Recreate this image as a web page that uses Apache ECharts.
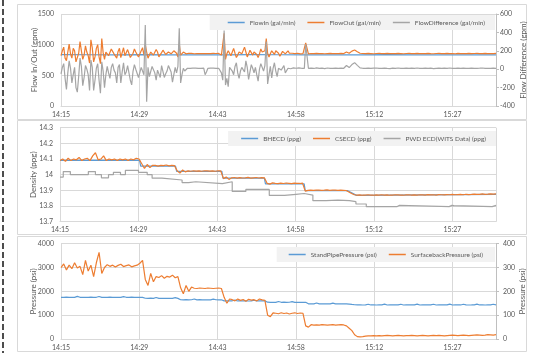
<!DOCTYPE html>
<html>
<head>
<meta charset="utf-8">
<script src="https://cdn.jsdelivr.net/npm/echarts@6/dist/echarts.min.js"></script>
<style>
  html, body { margin: 0; padding: 0; background: #fff; }
  #chart { width: 536px; height: 353px; }
</style>
</head>
<body>
<div id="chart"></div>
<script>
// time is minutes after 14:15
const sampleStep = 0.5;
const fineStep = 0.25;
const lateStart = 45.5;
const timeTicks = ['14:15', '14:29', '14:43', '14:58', '15:12', '15:27'];

// panel 1: flow (gpm) - noisy first 45 min sampled every quarter minute
const flowInStep = 5;
const flowIn = [838, 836, 835, 837, 834, 836, 835, 837, 836, 834, 836, 835, 837, 835, 836, 834, 835];
const flowOutEarly = [
  820, 900, 960, 780, 740, 880, 1010, 850, 780, 940, 900, 720, 700, 860, 1050, 900,
  760, 830, 980, 880, 820, 700, 1080, 950, 720, 800, 940, 1000, 800, 690, 1100, 870,
  760, 880, 900, 820, 800, 930, 960, 850, 830, 780, 890, 940, 790, 870, 950, 820,
  840, 920, 910, 790, 780, 860, 930, 880, 860, 800, 820, 900, 950, 830, 1000, 880,
  780, 830, 880, 900, 830, 860, 920, 880, 800, 790, 870, 910, 900, 840, 820, 880,
  890, 850, 840, 900, 910, 860, 800, 1010, 830, 850, 880, 870, 850, 840, 860, 855,
  858, 855, 852, 856, 854, 857, 853, 855, 856, 854, 855, 857, 853, 856, 854, 855, 858, 854, 856, 853, 857,
  870, 830, 800, 1185, 760, 850, 900, 870, 820, 880, 940, 860, 790, 830, 880, 900,
  850, 870, 960, 880, 800, 850, 910, 870, 830, 880, 880, 840, 790, 850, 930, 880,
  850, 900, 1100, 860, 800, 850, 900, 870, 840, 900, 930, 860, 810, 850, 890, 870,
  850, 880, 900, 860, 840, 860, 870, 855, 850, 860, 865, 850, 850, 855, 850, 1030
];
const flowOutLate = [
  850, 856, 853, 857, 854, 856, 852, 855, 858, 854, 856, 853, 857, 855,
  880, 860, 895, 912, 885, 860,
  856, 853, 857, 855, 852, 856, 858, 854, 855, 857, 853, 856, 854, 858, 855, 852, 856, 857, 854, 855, 858, 853, 856, 855, 857,
  854, 852, 856, 858, 855, 853, 857, 855, 856, 852, 858, 854, 856, 855, 857, 853, 856, 858, 854, 855, 857, 853, 856, 855, 857
];
const flowDiffEarly = [
  -50, 20, 60, -100, -220, -40, 90, 10, -150, -60, 20, -200, -250, -80, 120, 30,
  -180, -90, 40, 0, -60, -230, 100, 20, -230, -120, 10, 60, -120, -260, 80, -20,
  -200, -60, 30, -40, -100, 20, 60, -10, -40, -150, 20, 50, -150, -30, 70, -60,
  -30, 40, 20, -120, -170, -20, 50, 0, -20, -90, -80, 20, 30, -60, 480, -353,
  20, -80, -60, 30, 50, -40, -120, -10, -10, -90, 40, 20, -90, -50, -20, 40,
  60, -30, -140, -60, 20, -40, 30, 445, -150, -60, 10, -20, -30, 10, 5, 8,
  10, 12, 9, 11, 10, 8, 12, 10, 9, 11, -60, -30, 8, 10, 12, 9, 11, 10, 8, 12, 10,
  20, -40, -120, 420, -172, -100, -190, 20, 40, -20, -60, 30, 70, -40, -100, -20,
  20, 10, -30, 90, 20, -110, -30, 50, 10, -40, 20, -60, -130, 0, 60, 20,
  -20, 40, 300, -160, -60, 30, -96, 10, 70, -20, -80, 10, 30, -10, -10, 40,
  -40, -20, 10, 15, 5, 10, 15, 8, 10, 12, 15, 9, 10, 12, 8, 270
];
const flowDiffLate = [
  10, 12, 8, 14, 9, 11, 7, 13, 10, 8, 12, 9, 11, 10,
  40, 18, 50, 71, 42, 15,
  10, 8, 12, 9, 11, 13, 8, 10, 12, 9, 7, 11, 10, 13, 9, 8, 12, 10, 11, 9, 13, 8, 10, 12, 9,
  11, 7, 10, 12, 9, 11, 8, 13, 10, 9, 12, 8, 11, 10, 9, 12, 8, 10, 11, 13, 9, 10, 8, 12, 10
];

// panel 2: density (ppg)
const bhecdTimes = [0, 14.6, 14.8, 21.2, 21.4, 29.7, 29.9, 37.5, 37.7, 44.8, 45.0, 52.8, 54.4, 80];
const bhecd = [14.092, 14.092, 14.055, 14.055, 14.021, 14.021, 13.978, 13.978, 13.942, 13.942, 13.898, 13.898, 13.868, 13.874];
const csecd = [
  14.09, 14.10, 14.085, 14.105, 14.09, 14.10, 14.095, 14.11, 14.09, 14.10, 14.105, 14.09, 14.12, 14.14, 14.095,
  14.10, 14.12, 14.09, 14.10, 14.095, 14.10, 14.09, 14.10, 14.095, 14.10, 14.09, 14.10, 14.095, 14.105, 14.10,
  14.07, 14.04, 14.065, 14.045, 14.06, 14.06, 14.055, 14.06, 14.058, 14.062, 14.056, 14.06, 14.058,
  14.025, 14.01, 14.03, 14.018, 14.024, 14.022, 14.025, 14.023, 14.024, 14.022, 14.025, 14.024, 14.023, 14.024, 14.022, 14.025, 14.024,
  13.975, 13.985, 13.97, 13.98, 13.982, 13.978, 13.981, 13.979, 13.98, 13.983, 13.978, 13.98, 13.982, 13.979, 13.981, 13.98,
  13.945, 13.94, 13.948, 13.945, 13.943, 13.946, 13.944, 13.947, 13.945, 13.943, 13.946, 13.945, 13.944, 13.946,
  13.895, 13.9, 13.902, 13.9, 13.901, 13.902, 13.9, 13.901, 13.903, 13.9, 13.901, 13.902, 13.9, 13.901, 13.9, 13.899,
  13.89, 13.88, 13.872,
  13.87, 13.871, 13.869, 13.87, 13.872, 13.87, 13.869, 13.871, 13.87, 13.872, 13.87, 13.871, 13.869, 13.87, 13.872, 13.871,
  13.87, 13.869, 13.871, 13.872, 13.87, 13.871, 13.87, 13.872, 13.871, 13.87, 13.873, 13.871, 13.872, 13.87, 13.873, 13.872,
  13.871, 13.873, 13.872, 13.874, 13.872, 13.873, 13.874, 13.872, 13.875, 13.873, 13.874, 13.876, 13.874, 13.875, 13.877,
  13.875, 13.876, 13.878, 13.876, 13.877
];
const pwdTimes = [0, 0.6, 1.9, 5.2, 6.5, 7.6, 8.9, 9.8, 11.1, 12.0, 14.4, 16.0, 16.9, 18.7, 22.4, 23.6, 24.9, 29.8, 31.6, 34.1,
  38.4, 41.2, 43.3, 44.8, 46.4, 48.8, 51.0, 53.1, 54.3, 56.2, 61.8, 62.0, 62.3, 71.4, 71.6, 71.9, 72.1, 72.3, 79.3, 79.5, 80];
const pwdEcd = [13.985, 14.02, 14.0, 14.02, 14.0, 13.98, 14.0, 14.015, 14.0, 14.028, 14.015, 14.0, 13.978, 13.966, 13.95, 13.955, 13.943, 13.955, 13.893, 13.906,
  13.868, 13.875, 13.88, 13.87, 13.834, 13.838, 13.834, 13.828, 13.813, 13.796, 13.796, 13.805, 13.796, 13.796, 13.804, 13.796, 13.803, 13.796, 13.796, 13.804, 13.804];

// panel 3: pressure (psi)
const standPipe = [
  1750, 1745, 1755, 1748, 1752, 1746, 1790, 1750, 1744, 1753, 1749, 1755, 1747, 1751, 1785, 1748, 1752, 1746, 1754, 1750, 1747, 1753, 1749, 1780, 1751, 1746, 1754, 1748, 1752, 1750, 1747,
  1710, 1705, 1712, 1707, 1740, 1704, 1709, 1706, 1711, 1705, 1708, 1735, 1706,
  1648, 1645, 1650, 1643, 1647, 1680, 1644, 1649, 1646, 1642, 1648, 1645, 1675, 1647, 1644, 1646,
  1602, 1598, 1600, 1604, 1630, 1597, 1601, 1599, 1603, 1596, 1600, 1628, 1598, 1602, 1599, 1601,
  1545, 1540, 1543, 1538, 1575, 1541, 1544, 1539, 1542, 1570, 1540, 1543, 1538, 1541, 1539,
  1478, 1474, 1476, 1510, 1473, 1477, 1475, 1472, 1476, 1505, 1474, 1477, 1475, 1473, 1476,
  1465, 1450, 1438, 1432,
  1430, 1428, 1432, 1460, 1429, 1431, 1427, 1433, 1430, 1465, 1428, 1431, 1429, 1432, 1430, 1458, 1427,
  1431, 1429, 1433, 1430, 1462, 1428, 1432, 1429, 1431, 1430, 1460, 1427, 1432, 1429, 1431, 1433,
  1465, 1428, 1430, 1432, 1429, 1460, 1431, 1428, 1430, 1433, 1462, 1429, 1431, 1428, 1432, 1430, 1458, 1431
];
const surfaceBack = [
  300, 315, 290, 310, 295, 320, 298,
  305, 270, 330, 285, 310, 262, 320, 364, 275, 300,
  312, 305, 310, 302, 309, 314, 304, 308, 311, 303, 307, 310,
  318, 330,
  250, 225, 275, 240, 262, 258, 266, 255, 263, 260, 268, 257, 262,
  215, 190, 225, 200, 218, 213, 212, 214, 213, 212, 214, 213, 212, 213, 214, 212,
  175, 150, 168, 165, 160, 168, 162, 166, 158, 167, 163, 165, 160, 168, 164, 162,
  100, 94, 110, 108, 106, 110, 107, 109, 105, 108, 110, 107, 109, 108,
  55, 50, 60, 58, 59, 58, 60, 59, 58, 59, 60, 58, 59, 60, 59,
  55, 45, 35, 18, 10,
  9, 10, 12, 13, 13, 14, 13, 14, 13, 14, 15, 14, 13, 14, 15, 14, 13, 14, 14, 15, 14, 13, 14, 15, 14,
  13, 14, 15, 14, 15, 14, 13, 14, 15, 16, 15, 14, 15, 16, 15, 14, 15, 16, 17, 16, 15, 16, 18, 17, 16, 18
];

const FONT = 'Lato, "Open Sans", sans-serif';
const TXT = '#595959';
const GRIDC = '#d9d9d9';
const BLUE = '#5b9bd5', ORANGE = '#ed7d31', GRAY = '#a5a5a5';

const sampled = (arr, step, start) => arr.map((v, i) => [(start || 0) + i * step, v]);
const paired = (ts, vs) => ts.map((t, i) => [t, vs[i]]);

const fmtTime = v => {
  const tot = Math.floor(14 * 60 + 15 + v + 1e-6);
  const h = Math.floor(tot / 60), m = tot % 60;
  return h + ':' + (m < 10 ? '0' : '') + m;
};

const xAxisFor = gi => ({
  type: 'value', gridIndex: gi, min: 0, max: 80, interval: 14.4,
  axisLine: { show: true, lineStyle: { color: GRIDC } },
  axisTick: { show: false },
  splitLine: { show: true, lineStyle: { color: GRIDC, width: 1 } },
  axisLabel: { color: TXT, fontSize: 7, fontFamily: FONT, margin: 5, showMaxLabel: false,
    formatter: v => { const s = fmtTime(v); return timeTicks.includes(s) ? s : ''; } }
});

const leftAxis = (gi, min, max, interval, name, gap, fmt) => ({
  type: 'value', gridIndex: gi, min, max, interval, position: 'left',
  name, nameLocation: 'middle', nameGap: gap, nameMoveOverlap: false,
  nameTextStyle: { color: TXT, fontSize: 8, fontFamily: FONT },
  axisLine: { show: false }, axisTick: { show: false },
  splitLine: { show: true, lineStyle: { color: GRIDC, width: 1 } },
  axisLabel: { color: TXT, fontSize: 7, fontFamily: FONT, margin: 7, formatter: fmt || (v => String(v)) }
});

const rightAxis = (gi, min, max, interval, name, gap, margin) => ({
  type: 'value', gridIndex: gi, min, max, interval, position: 'right',
  name, nameLocation: 'middle', nameGap: gap, nameRotate: 90, nameMoveOverlap: false,
  nameTextStyle: { color: TXT, fontSize: 8, fontFamily: FONT },
  axisLine: { show: true, lineStyle: { color: '#bfbfbf' } },
  axisTick: { show: true, length: 3, lineStyle: { color: '#bfbfbf' } },
  splitLine: { show: false },
  axisLabel: { color: TXT, fontSize: 7, fontFamily: FONT, margin, formatter: v => String(v) }
});

const legendFor = (top, right, names, pad) => ({
  top, right, orient: 'horizontal',
  backgroundColor: '#f2f2f2', padding: pad,
  itemWidth: 17, itemHeight: 1.5, itemGap: 12, icon: 'rect',
  textStyle: { color: TXT, fontSize: 6.5, fontFamily: FONT, lineHeight: 9 },
  data: names
});

const lineSeries = (name, data, xi, yi, color, step) => ({
  name, type: 'line', xAxisIndex: xi, yAxisIndex: yi, data,
  showSymbol: false, symbol: 'none', step: step || false,
  lineStyle: { color, width: 1.2 }, itemStyle: { color },
  emphasis: { disabled: true }
});

const panelBox = (y, h) => ({
  type: 'rect', silent: true, z: -1,
  shape: { x: 17.5, y, width: 509, height: h },
  style: { fill: '#fff', stroke: GRIDC, lineWidth: 1 }
});

const chart = echarts.init(document.getElementById('chart'), null, { renderer: 'canvas' });
chart.setOption({
  animation: false,
  backgroundColor: '#fff',
  textStyle: { fontFamily: FONT },
  graphic: [
    panelBox(4.5, 115), panelBox(120.5, 114), panelBox(236.5, 115),
    { type: 'line', silent: true, shape: { x1: 3, y1: 0, x2: 3, y2: 353 },
      style: { stroke: '#4d4d4d', lineWidth: 2, lineDash: [6, 3] } }
  ],
  grid: [
    { left: 61, right: 40, top: 14, height: 92 },
    { left: 60, right: 40, top: 127.7, height: 94 },
    { left: 61, right: 40, top: 243.7, height: 95.3 }
  ],
  legend: [
    legendFor(15, 41, ['FlowIn (gal/min)', 'FlowOut (gal/min)', 'FlowDifference (gal/min)'], [3, 10, 3, 18]),
    legendFor(131, 40, ['BHECD (ppg)', 'CSECD (ppg)', 'PWD ECD(WITS Data) (ppg)'], [3, 10, 3, 13]),
    legendFor(247, 41, ['StandPipePressure (psi)', 'SurfacebackPressure (psi)'], [3, 12, 3, 12])
  ],
  xAxis: [xAxisFor(0), xAxisFor(1), xAxisFor(2)],
  yAxis: [
    leftAxis(0, 0, 1500, 500, 'Flow In/Out (gpm)', 23),
    rightAxis(0, -400, 600, 200, 'Flow Difference (gpm)', 23, 4),
    leftAxis(1, 13.7, 14.3, 0.1, 'Density (ppg)', 23, v => String(parseFloat(v.toFixed(1)))),
    leftAxis(2, 0, 4000, 1000, 'Pressure (psi)', 24),
    rightAxis(2, 0, 400, 100, 'Pressure (psi)', 22, 7)
  ],
  series: [
    lineSeries('FlowIn (gal/min)', sampled(flowIn, flowInStep), 0, 0, BLUE),
    lineSeries('FlowOut (gal/min)', sampled(flowOutEarly, fineStep).concat(sampled(flowOutLate, sampleStep, lateStart)), 0, 0, ORANGE),
    lineSeries('FlowDifference (gal/min)', sampled(flowDiffEarly, fineStep).concat(sampled(flowDiffLate, sampleStep, lateStart)), 0, 1, GRAY),
    lineSeries('BHECD (ppg)', paired(bhecdTimes, bhecd), 1, 2, BLUE),
    lineSeries('CSECD (ppg)', sampled(csecd, sampleStep), 1, 2, ORANGE),
    lineSeries('PWD ECD(WITS Data) (ppg)', paired(pwdTimes, pwdEcd), 1, 2, GRAY, 'end'),
    lineSeries('StandPipePressure (psi)', sampled(standPipe, sampleStep), 2, 3, BLUE),
    lineSeries('SurfacebackPressure (psi)', sampled(surfaceBack, sampleStep), 2, 4, ORANGE)
  ]
});
</script>
</body>
</html>
